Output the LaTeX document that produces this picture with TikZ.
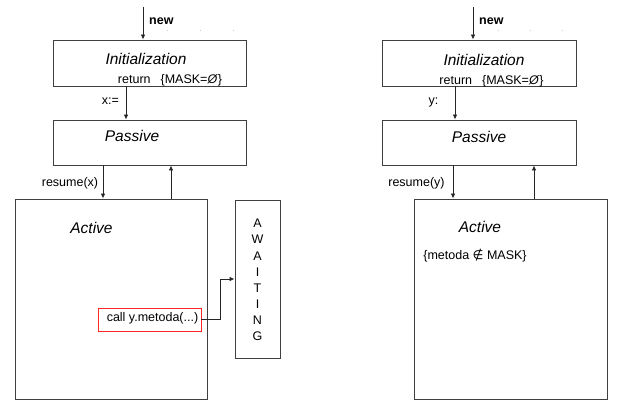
\documentclass[tikz,border=0pt]{standalone}
\usepackage{fontspec}
\setmainfont{Liberation Sans}
\newfontfamily\symfont{DejaVu Sans}
\usetikzlibrary{arrows.meta}
\begin{document}
\begin{tikzpicture}[x=1pt,y=-1pt,
  box/.style={draw=black!75,line width=0.9pt,rectangle,inner sep=0pt},
  redbox/.style={draw=red!85,line width=0.8pt,rectangle,inner sep=0pt},
  arr/.style={draw=black!85,line width=0.8pt,-{Latex[length=5pt,width=4.5pt]}},
  conn/.style={draw=black!85,line width=0.8pt},
  big/.style={font=\fontsize{15.5}{18}\selectfont\itshape,inner sep=0pt},
  small/.style={font=\fontsize{12.5}{15}\selectfont,inner sep=0pt},
  letters/.style={font=\fontsize{12.5}{16.1}\selectfont,inner sep=0pt,align=center}]
\useasboundingbox (0,0) rectangle (619,402);
% ---------- left ----------
\node[box,minimum width=193pt,minimum height=46pt] (init) at (149.5,63) {};
\node[box,minimum width=193pt,minimum height=45pt] (passive) at (149.5,142.5) {};
\node[box,minimum width=192pt,minimum height=200pt] (active) at (111,299) {};
\node[box,minimum width=45pt,minimum height=158pt] (await) at (257.5,279) {};
\node[redbox,minimum width=103pt,minimum height=23pt] (red) at (149.5,319.5) {};
\node[big] (tinit) at (146,59) {Initialization};
\node[small] (tret) at (170,80) {return\hspace{0.8em}\{MASK=\textit{Ø}\}};
\node[big] (tpas) at (132,136) {Passive};
\node[big] (tact) at (91.5,228) {Active};
\node[small] (tcall) at (152.5,318) {call y.metoda(...)};
\node[letters] (taw) at (257.5,280) {A\\W\\A\\I\\T\\I\\N\\G};
\node[small,font=\fontsize{12.5}{15}\selectfont\bfseries,anchor=west] (tnew) at (149,21) {new};
\node[small] (tx) at (110.5,101) {x:=};
\node[small] (tres) at (70,183) {resume(x)};
\coordinate (newA) at ([xshift=-6.5pt,yshift=33pt]init.north);
\draw[arr] (newA) -- (newA |- init.north);
\coordinate (xa) at ([xshift=-23.5pt]init.south);
\draw[arr] (xa) -- (xa |- passive.north);
\coordinate (r1) at ([xshift=-46.5pt]passive.south);
\draw[arr] (r1) -- (r1 |- active.north);
\coordinate (u1) at ([xshift=21.5pt]passive.south);
\draw[arr] (u1 |- active.north) -- (u1);
\draw[conn,-{Latex[length=5pt,width=4.5pt]}] (red.east) -- ++(19,0) |- (await.west);
\coordinate (dl) at (167,30);
\draw[black!20,line width=0.6pt,dash pattern=on 1pt off 32pt] (dl) -- ++(70,0);
% ---------- right ----------
\node[box,minimum width=194pt,minimum height=46pt] (initR) at (479,63) {};
\node[box,minimum width=194pt,minimum height=45pt] (passiveR) at (479,142.5) {};
\node[box,minimum width=193pt,minimum height=200pt] (activeR) at (510.5,299) {};
\node[big] (tinitR) at (484,60) {Initialization};
\node[small] (tretR) at (491.5,81) {return\hspace{0.8em}\{MASK=\textit{Ø}\}};
\node[big] (tpasR) at (479,137) {Passive};
\node[big] (tactR) at (480,227) {Active};
\node[small] (tmask) at (475,256) {\{metoda {\symfont ∉} MASK\}};
\node[small,font=\fontsize{12.5}{15}\selectfont\bfseries,anchor=west] (tnewR) at (479,21) {new};
\node[small] (ty) at (433.5,102) {y:};
\node[small] (tresR) at (416.5,183) {resume(y)};
\coordinate (newB) at ([xshift=-6pt,yshift=33pt]initR.north);
\draw[arr] (newB) -- (newB |- initR.north);
\coordinate (ya) at ([xshift=-24pt]initR.south);
\draw[arr] (ya) -- (ya |- passiveR.north);
\coordinate (r2) at ([xshift=-26pt]passiveR.south);
\draw[arr] (r2) -- (r2 |- activeR.north);
\coordinate (u2) at ([xshift=55pt]passiveR.south);
\draw[arr] (u2 |- activeR.north) -- (u2);
\coordinate (dr) at (498,30);
\draw[black!20,line width=0.6pt,dash pattern=on 1pt off 31pt] (dr) -- ++(73,0);
\end{tikzpicture}
\end{document}
